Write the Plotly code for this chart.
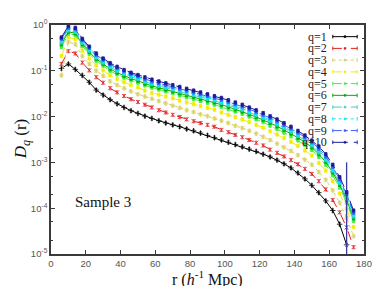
import plotly.graph_objects as go

# separation r (h^-1 Mpc)
r = [6, 10, 14, 18, 22, 26, 30, 34, 38, 42, 46, 50, 54, 58, 62, 66, 70, 74, 78, 82, 86,
     90, 94, 98, 102, 106, 110, 114, 118, 122, 126, 130, 134, 138, 142, 146, 150, 154,
     158, 162, 166, 170, 174]

# log10 D_q(r)
log_d1 = [-0.95, -0.85, -0.97, -1.10, -1.25, -1.42, -1.53, -1.63, -1.72, -1.80, -1.87,
          -1.93, -1.99, -2.04, -2.09, -2.14, -2.18, -2.22, -2.27, -2.31, -2.36, -2.41,
          -2.46, -2.51, -2.56, -2.61, -2.66, -2.71, -2.76, -2.82, -2.88, -2.95, -3.03,
          -3.12, -3.23, -3.36, -3.50, -3.66, -3.84, -4.05, -4.35, -4.80, None]
log_d2 = [-0.85, -0.57, -0.62, -0.82, -0.99, -1.14, -1.26, -1.38, -1.47, -1.55, -1.62,
          -1.68, -1.74, -1.80, -1.86, -1.91, -1.96, -2.01, -2.06, -2.10, -2.14, -2.18,
          -2.22, -2.29, -2.34, -2.40, -2.45, -2.51, -2.57, -2.63, -2.72, -2.79, -2.87,
          -2.95, -3.04, -3.14, -3.25, -3.41, -3.59, -3.82, -4.09, -4.42, -4.85]
log_d3 = [-1.10, -0.37, -0.42, -0.68, -0.85, -1.00, -1.11, -1.23, -1.31, -1.38, -1.45,
          -1.51, -1.56, -1.61, -1.66, -1.71, -1.76, -1.81, -1.86, -1.90, -1.95, -1.99,
          -2.04, -2.09, -2.14, -2.20, -2.25, -2.31, -2.37, -2.44, -2.51, -2.59, -2.67,
          -2.75, -2.84, -2.94, -3.05, -3.21, -3.38, -3.61, -3.88, -4.21, -4.61]
log_d4 = [-0.68, -0.27, -0.31, -0.56, -0.73, -0.88, -0.99, -1.10, -1.18, -1.25, -1.31,
          -1.36, -1.43, -1.48, -1.52, -1.56, -1.60, -1.65, -1.69, -1.73, -1.77, -1.81,
          -1.85, -1.91, -1.96, -2.01, -2.06, -2.12, -2.18, -2.24, -2.32, -2.39, -2.47,
          -2.55, -2.64, -2.74, -2.85, -3.01, -3.18, -3.41, -3.68, -4.01, -4.41]
log_d5 = [-0.48, -0.19, -0.22, -0.46, -0.63, -0.78, -0.89, -1.00, -1.08, -1.15, -1.21,
          -1.26, -1.32, -1.37, -1.41, -1.45, -1.49, -1.54, -1.58, -1.62, -1.66, -1.70,
          -1.74, -1.79, -1.84, -1.89, -1.94, -2.00, -2.06, -2.12, -2.20, -2.27, -2.35,
          -2.43, -2.52, -2.62, -2.73, -2.88, -3.05, -3.28, -3.55, -3.88, -4.28]
log_d6 = [-0.42, -0.15, -0.18, -0.42, -0.59, -0.74, -0.85, -0.96, -1.04, -1.11, -1.17,
          -1.22, -1.28, -1.33, -1.37, -1.41, -1.45, -1.49, -1.53, -1.57, -1.61, -1.65,
          -1.69, -1.74, -1.79, -1.84, -1.89, -1.95, -2.01, -2.07, -2.14, -2.21, -2.29,
          -2.37, -2.46, -2.56, -2.67, -2.82, -2.99, -3.22, -3.49, -3.82, -4.22]
log_d7 = [-0.38, -0.12, -0.15, -0.39, -0.56, -0.71, -0.82, -0.92, -1.00, -1.07, -1.13,
          -1.18, -1.24, -1.29, -1.33, -1.37, -1.41, -1.45, -1.49, -1.53, -1.57, -1.61,
          -1.65, -1.70, -1.75, -1.80, -1.85, -1.91, -1.97, -2.03, -2.10, -2.17, -2.25,
          -2.33, -2.42, -2.52, -2.63, -2.78, -2.95, -3.18, -3.45, -3.78, -4.18]
log_d8 = [-0.33, -0.09, -0.12, -0.36, -0.53, -0.68, -0.79, -0.89, -0.97, -1.04, -1.10,
          -1.15, -1.21, -1.26, -1.30, -1.34, -1.38, -1.42, -1.46, -1.50, -1.54, -1.58,
          -1.62, -1.67, -1.72, -1.77, -1.82, -1.88, -1.94, -2.00, -2.07, -2.14, -2.22,
          -2.30, -2.39, -2.49, -2.60, -2.74, -2.91, -3.14, -3.41, -3.74, -4.14]
log_d9 = [-0.30, -0.06, -0.09, -0.33, -0.50, -0.65, -0.76, -0.86, -0.94, -1.01, -1.07,
          -1.12, -1.18, -1.23, -1.27, -1.31, -1.35, -1.39, -1.43, -1.47, -1.51, -1.55,
          -1.59, -1.63, -1.68, -1.73, -1.78, -1.84, -1.90, -1.96, -2.03, -2.10, -2.18,
          -2.26, -2.35, -2.45, -2.56, -2.70, -2.87, -3.10, -3.37, -3.70, -4.10]
log_d10 = [-0.27, -0.02, -0.06, -0.30, -0.47, -0.62, -0.73, -0.83, -0.91, -0.98, -1.04,
           -1.09, -1.14, -1.19, -1.23, -1.27, -1.31, -1.35, -1.39, -1.43, -1.47, -1.51,
           -1.55, -1.59, -1.64, -1.69, -1.74, -1.80, -1.86, -1.92, -1.99, -2.06, -2.14,
           -2.22, -2.31, -2.41, -2.52, -2.65, -2.82, -3.05, -3.32, -3.65, -4.05]

series = [log_d1, log_d2, log_d3, log_d4, log_d5, log_d6, log_d7, log_d8, log_d9, log_d10]
names = ["q=1", "q=2", "q=3", "q=4", "q=5", "q=6", "q=7", "q=8", "q=9", "q=10"]
colors = ["#000000", "#e02020", "#d8d060", "#f2ee00", "#40f040",
          "#00b000", "#40d0c0", "#00eeff", "#4060ff", "#1c1c96"]
dashes = ["solid", "dash", "dot", "dash", "dashdot",
          "solid", "dash", "dot", "dashdot", "longdashdot"]
symbols = ["cross-thin", "x-thin", "asterisk", "square", "square",
           "square", "square", "square", "square", "square"]

# big tail error bar on q=10 near r=170 (upper end ~1e-3)
tail_err_up = [7.8e-4]

yticks = [1e-5, 1e-4, 1e-3, 1e-2, 1e-1, 1]
ytext = ["10<sup>-5</sup>", "10<sup>-4</sup>", "10<sup>-3</sup>",
         "10<sup>-2</sup>", "10<sup>-1</sup>", "10<sup>0</sup>"]
xticks = [0, 20, 40, 60, 80, 100, 120, 140, 160, 180]


def to_d(vals):
    return [None if v is None else 10 ** v for v in vals]


fig = go.Figure()

for vals, name, c, d, s in zip(series, names, colors, dashes, symbols):
    big = s in ("cross-thin", "x-thin", "asterisk")
    fig.add_trace(go.Scatter(
        x=r, y=to_d(vals), name=name, mode="lines+markers",
        line=dict(color=c, width=1, dash=d),
        marker=dict(color=c, size=4 if big else 3, symbol=s,
                    line=dict(color=c, width=0.8 if big else 0.4)),
        error_y=dict(type="percent", value=8, color=c, thickness=0.7, width=1.2),
        showlegend=False))

# the long error bar seen on the top curve close to r = 170
d10 = to_d(log_d10)
fig.add_trace(go.Scatter(
    x=[r[41]], y=[d10[41]], mode="markers",
    marker=dict(color=colors[9], size=3, symbol="square"),
    error_y=dict(type="data", array=tail_err_up, arrayminus=[d10[41] * 0.999],
                 color="#3a3aa0", thickness=1.3, width=0),
    showlegend=False))

# window pixels of the plot frame (page body has an 8px margin)
OFF = 8
L, R, T, B = 51, 372, 18, 254
W, H = 382 - OFF, 286 - OFF


def px_x(p):
    return (p - L) / (R - L)


def px_y(p):
    return 1 - (p - T) / (B - T)


# gnuplot style key: text on the left, sample on the right
for i, (name, c, d) in enumerate(zip(names, colors, dashes)):
    yp = px_y(30 + 12.1 * i)
    fig.add_annotation(x=px_x(336), y=yp, xref="paper", yref="paper", text=name,
                       showarrow=False, xanchor="right", yanchor="middle",
                       font=dict(family="Liberation Serif", size=12, color="#222"))
    fig.add_shape(type="line", xref="paper", yref="paper",
                  x0=px_x(340), x1=px_x(365), y0=yp, y1=yp,
                  line=dict(color=c, width=1, dash=d))
    for xe in (340, 365):
        fig.add_shape(type="line", xref="paper", yref="paper",
                      x0=px_x(xe), x1=px_x(xe), y0=yp - 0.008, y1=yp + 0.008,
                      line=dict(color=c, width=1))
    fig.add_shape(type="rect", xref="paper", yref="paper",
                  x0=px_x(351.5), x1=px_x(353.5), y0=yp - 0.004, y1=yp + 0.004,
                  line=dict(color=c, width=0.5), fillcolor=c)

fig.add_annotation(x=px_x(104), y=px_y(200), xref="paper", yref="paper",
                   text="Sample 3", showarrow=False, xanchor="center", yanchor="middle",
                   font=dict(family="Liberation Serif", size=15, color="#111"))
fig.add_annotation(x=px_x(21), y=0.5, xref="paper", yref="paper",
                   text="<i>D</i><sub><i>q</i></sub> (r)", textangle=-90, showarrow=False,
                   xanchor="center", yanchor="middle",
                   font=dict(family="Liberation Serif", size=17, color="#111"))
fig.add_annotation(x=0.5, y=px_y(279), xref="paper", yref="paper",
                   text="r (<i>h</i><sup>-1</sup> Mpc)", showarrow=False,
                   xanchor="center", yanchor="middle",
                   font=dict(family="Liberation Serif", size=16, color="#111"))

axis_common = dict(showline=True, linecolor="#3a3a3a", linewidth=1.5, mirror="allticks",
                   ticks="inside", ticklen=4, tickcolor="#3a3a3a", showgrid=False,
                   zeroline=False,
                   tickfont=dict(family="Liberation Sans", size=9.5, color="#555"))

fig.update_xaxes(range=[0, 180], tickvals=xticks, **axis_common)
fig.update_yaxes(type="log", range=[-5, 0], tickvals=yticks, ticktext=ytext,
                 minor=dict(ticks="inside", ticklen=2, tickcolor="#3a3a3a"),
                 **axis_common)

fig.update_layout(width=W, height=H,
                  margin=dict(l=L - OFF, r=W - (R - OFF), t=T - OFF, b=H - (B - OFF)),
                  plot_bgcolor="white", paper_bgcolor="white")

fig.write_html("out.html")
